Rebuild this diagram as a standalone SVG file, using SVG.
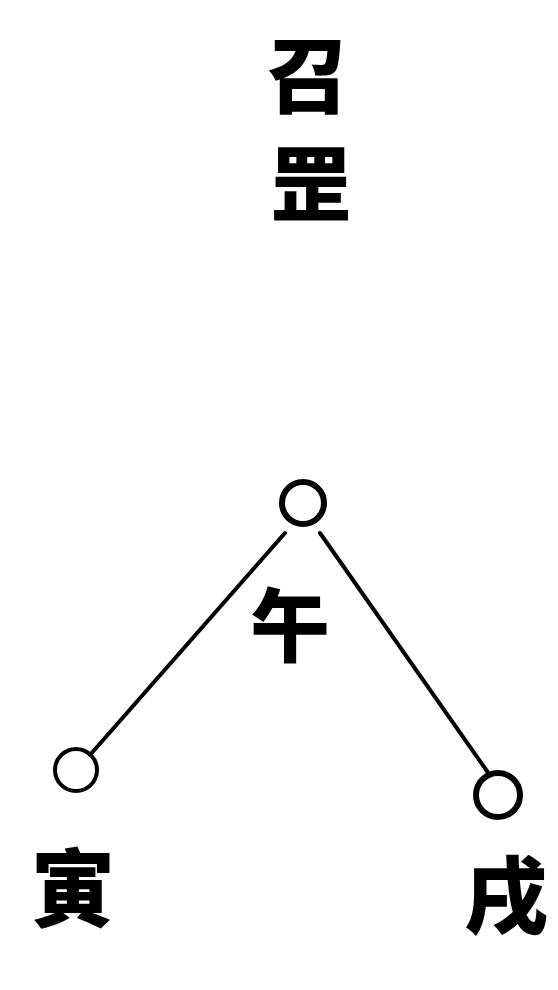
<svg xmlns="http://www.w3.org/2000/svg" width="558" height="990" viewBox="0 0 558 990">
<style>
.t{font-family:"Noto Sans CJK SC","Noto Sans CJK TC",sans-serif;font-weight:900;fill:#000;text-anchor:middle}
.c{fill:none;stroke:#000}
.l{stroke:#000;stroke-width:4;stroke-linecap:round;fill:none}
</style>
<rect width="558" height="990" fill="#fff"/>
<g id="title">
<text class="t" x="308" y="106" font-size="82">召</text>
<text class="t" x="311" y="215" font-size="82">罡</text>
</g>
<g id="connectors">
<line class="l" x1="285" y1="533" x2="90" y2="755"/>
<line class="l" x1="320" y1="533" x2="489" y2="774"/>
</g>
<g id="node-wu">
<circle class="c" cx="303" cy="503" r="21" stroke-width="6"/>
<text class="t" x="290" y="655" font-size="80">午</text>
</g>
<g id="node-yin">
<circle class="c" cx="76" cy="770" r="21" stroke-width="4"/>
<text class="t" x="73" y="920" font-size="84">寅</text>
</g>
<g id="node-xu">
<circle class="c" cx="498" cy="795" r="22" stroke-width="6"/>
<text class="t" x="506" y="927" font-size="84">戌</text>
</g>
</svg>
